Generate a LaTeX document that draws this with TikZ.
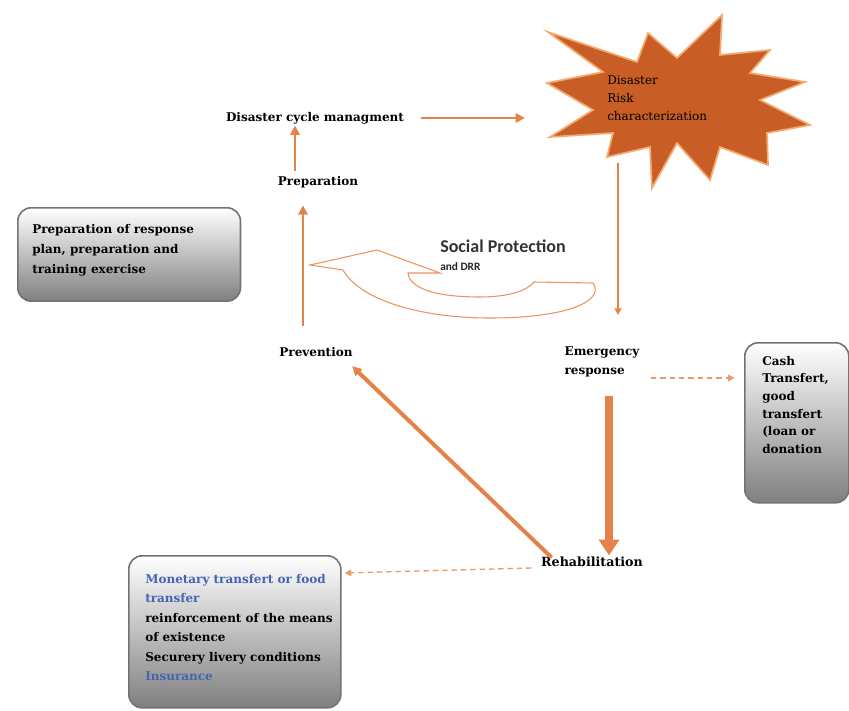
\documentclass[tikz,border=0pt]{standalone}
\usepackage{fontspec}
\setmainfont{DejaVu Serif}
\newfontfamily\calfont{Carlito}
\usetikzlibrary{arrows.meta,calc,positioning}

\definecolor{arroworange}{RGB}{228,130,72}
\definecolor{burstorange}{RGB}{200,94,38}
\definecolor{burstglow}{RGB}{244,170,110}
\definecolor{boxline}{RGB}{115,115,115}
\definecolor{textblue}{RGB}{68,100,180}

\tikzset{
  lbl/.style={font=\fontsize{9}{13}\selectfont\bfseries, inner sep=1pt},
  arr/.style={draw=arroworange, line width=2.2pt, -{Triangle[length=7pt,width=7pt]}},
  dasharr/.style={draw=arroworange!80, line width=1pt, dash pattern=on 4pt off 3pt, -{Triangle[length=5pt,width=5pt]}},
  grbox/.style={draw=boxline, line width=1.2pt, rounded corners=10pt, top color=white, bottom color=black!50, anchor=north west},
  boxtext/.style={align=left, inner sep=0pt, anchor=north west, font=\fontsize{9}{15}\selectfont\bfseries}
}

\begin{document}
\begin{tikzpicture}[x=0.75pt, y=-0.75pt]
\useasboundingbox (0,0) rectangle (849,710);

% the burst
\draw[draw=burstglow, line width=1.3pt, fill=burstorange, line join=miter]
  (548,32) -- (637,62) -- (648,33) -- (677,58) -- (722,15) -- (720,55)
  -- (770,50) -- (750,73) -- (805,82) -- (760,100) -- (810,125) -- (767,133)
  -- (768,165) -- (720,147) -- (710,180) -- (677,143) -- (652,188) -- (650,147)
  -- (607,157) -- (613,133) -- (550,137) -- (593,110) -- (547,83) -- (603,72) -- cycle;
\node[align=left, anchor=north west, inner sep=0pt, font=\fontsize{9}{13.5}\selectfont] (risk) at (607,75) {Disaster\\Risk\\characterization};
\coordinate (starW) at (525,118);
\coordinate (starS) at (618,163);

% cycle labels
\node[lbl] (cycle) at (315,118) {Disaster cycle managment};
\node[lbl] (prep) at (318,182) {Preparation};
\node[lbl] (prev) at (316,352) {Prevention};
\node[lbl, align=left, anchor=west, font=\fontsize{9}{14.5}\selectfont\bfseries] (emerg) at (563,362) {Emergency\\response};
\node[lbl, font=\fontsize{9.5}{12}\selectfont\bfseries] (rehab) at (592,562) {Rehabilitation};

% boxes
\node[grbox, minimum width=167pt, minimum height=70pt] (plan) at (17,207) {};
\node[boxtext] (plantext) at (32,224) {Preparation of response\\plan, preparation and\\training exercise};

\node[grbox, minimum width=78pt, minimum height=120pt] (cash) at (744,342) {};
\node[boxtext, font=\fontsize{9}{13.2}\selectfont\bfseries] (cashtext) at (762,356) {Cash\\Transfert,\\good\\transfert\\(loan or\\donation};

\node[grbox, minimum width=159pt, minimum height=114pt] (help) at (128,555) {};
\node[boxtext, font=\fontsize{9}{14.6}\selectfont\bfseries] (helptext) at (145,574) {\textcolor{textblue}{Monetary transfert or food}\\\textcolor{textblue}{transfer}\\reinforcement of the means\\of existence\\Securery livery conditions\\\textcolor{textblue}{Insurance}};

% U-turn arrow
\draw[draw=arroworange!85, line width=0.8pt, fill=white]
  (310,265) -- (377,250) -- (440,273) -- (408,273)
  .. controls (410,290) and (440,297) .. (480,297)
  .. controls (510,297) and (528,290) .. (534,282)
  -- (593,283)
  .. controls (605,300) and (570,318) .. (490,318)
  .. controls (420,318) and (360,300) .. (343,270) -- cycle;
\node[font=\calfont\fontsize{13.5}{15}\selectfont\bfseries, text=black!80, anchor=west, inner sep=0pt] (sp) at (440,246) {Social Protection};
\node[font=\calfont\fontsize{8.5}{10}\selectfont\bfseries, text=black!85, anchor=west, inner sep=0pt] (drr) at (440,267) {and DRR};

% connectors
\draw[arr] ($(cycle.east)+(15,0)$) -- (starW);
\draw[arr] ($(prep.north)+(-23,-4)$) -- ($(cycle.south)+(-20,0)$);
\coordinate (prevup) at ($(prev.north)+(-13,-20)$);
\draw[arr] (prevup) -- ($(prevup |- prep.south)+(0,16)$);
\draw[arr, -{Triangle[length=5pt,width=5pt]}] (starS) -- ($(emerg.north -| starS)+(0,-30)$);
\coordinate (bigtop) at ($(emerg.south)+(7,17)$);
\draw[draw=arroworange, line width=6pt, -{Triangle[length=12pt,width=15pt]}] (bigtop) -- (bigtop |- rehab.north);
\draw[arr, line width=3pt] ($(rehab.north west)+(12,2)$) -- ($(prev.south east)+(-2,8)$);
\coordinate (dstart) at ($(emerg.east)+(10,16)$);
\draw[dasharr, shorten >=7pt] (dstart) -- (dstart -| cash.west);
\draw[dasharr] ($(rehab.west)+(-8,6)$) -- ($(help.north east)+(3,18)$);
\end{tikzpicture}
\end{document}
